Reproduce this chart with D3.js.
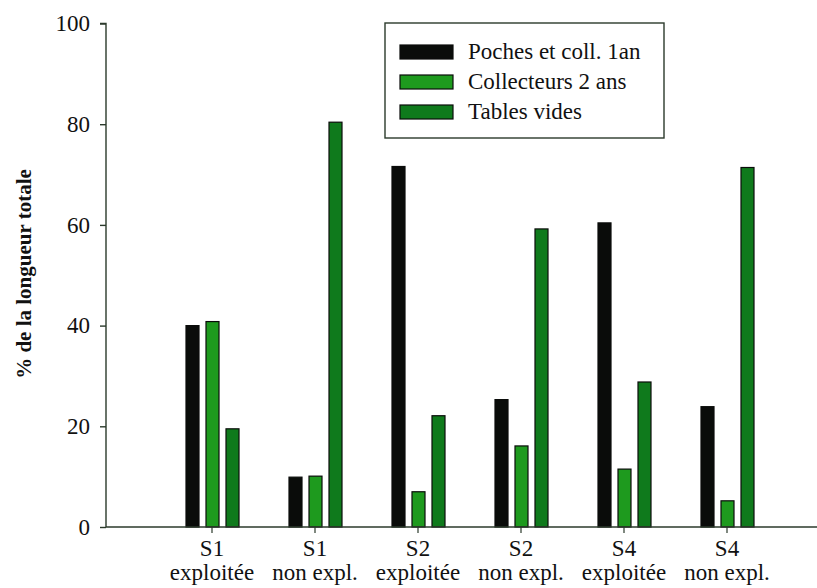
<!DOCTYPE html>
<html><head><meta charset="utf-8">
<script src="https://cdn.jsdelivr.net/npm/d3@7/dist/d3.min.js"></script>
<style>body{margin:0;background:#fff}svg{display:block}text{font-family:"Liberation Serif",Tinos,"Times New Roman",Times,"Nimbus Roman","Noto Serif","DejaVu Serif",serif}</style>
</head><body><svg id="c" width="817" height="588"></svg>
<script>
const categories = ["S1|exploitée","S1|non expl.","S2|exploitée","S2|non expl.","S4|exploitée","S4|non expl."];
const seriesNames = ["Poches et coll. 1an","Collecteurs 2 ans","Tables vides"];
const poches = [40.0, 9.9, 71.6, 25.3, 60.4, 23.9];
const collecteurs = [40.8, 10.1, 7.0, 16.1, 11.5, 5.2];
const tables = [19.5, 80.4, 22.1, 59.2, 28.8, 71.4];
const yTicks = [0,20,40,60,80,100];
const colors = ["#0a0c0a","#1e9a1e","#0f7a1c"];

const series = [poches, collecteurs, tables];
const svg = d3.select("#c");
const axisColor = "#2b3a2b";
const x0 = 106, yBase = 527, yTop = 23.5;
const x = d3.scaleBand().domain(categories).range([160.5, 778.5]).paddingInner(0).paddingOuter(0);
const xs = d3.scaleBand().domain([0,1,2]).range([-26, 27]).paddingInner(0.35).paddingOuter(0);
const y = d3.scaleLinear().domain([0,100]).range([yBase, yTop]);

// bars
series.forEach((vals, si) => {
  svg.append("g").selectAll("rect").data(vals).join("rect")
    .attr("x", (d,i) => x(categories[i]) + x.bandwidth()/2 + xs(si))
    .attr("width", xs.bandwidth())
    .attr("y", d => y(d))
    .attr("height", d => yBase - y(d))
    .attr("fill", colors[si])
    .attr("stroke", "#0a0c0a").attr("stroke-width", 1.2);
});

// y axis
const ya = svg.append("g").attr("transform", `translate(${x0},0)`)
  .call(d3.axisLeft(y).tickValues(yTicks).tickSize(6).tickPadding(10));
ya.attr("font-family", null);
ya.select(".domain").attr("stroke", axisColor).attr("stroke-width", 1.4).attr("d", `M-6,${yTop}H0V${yBase}`);
ya.selectAll(".tick line").attr("stroke", axisColor).attr("stroke-width", 1.4);
ya.selectAll(".tick text").attr("font-size", 23).attr("fill", "#111");

// x axis
const xa = svg.append("g").attr("transform", `translate(0,${yBase})`)
  .call(d3.axisBottom(x).tickSize(6).tickFormat(""));
xa.attr("font-family", null);
xa.select(".domain").attr("d", `M${x0},0H817`).attr("stroke", axisColor).attr("stroke-width", 1.4);
xa.selectAll(".tick line").attr("stroke", axisColor).attr("stroke-width", 1.2);
xa.selectAll(".tick").each(function(d){
  const parts = d.split("|");
  const t = d3.select(this).append("text").attr("font-size", 23).attr("fill", "#111").attr("text-anchor","middle");
  t.append("tspan").attr("x", 0).attr("y", 29).text(parts[0]);
  t.append("tspan").attr("x", 0).attr("y", 53).text(parts[1]);
});

// y title
svg.append("text").attr("transform", "translate(31,274) rotate(-90)")
  .attr("text-anchor","middle").attr("font-weight","bold")
  .attr("font-size", 21).attr("fill", "#111").text("% de la longueur totale");

// legend
const lg = svg.append("g");
lg.append("rect").attr("x", 385).attr("y", 23).attr("width", 279).attr("height", 115)
  .attr("fill", "#fff").attr("stroke", axisColor).attr("stroke-width", 1.4);
seriesNames.forEach((n, i) => {
  lg.append("rect").attr("x", 400).attr("y", 45 + i*30).attr("width", 53).attr("height", 14)
    .attr("fill", colors[i]).attr("stroke", "#0a0c0a").attr("stroke-width", 1.2);
  lg.append("text").attr("x", 468).attr("y", 59 + i*30).attr("font-size", 23)
    .attr("fill", "#111").text(n);
});
</script></body></html>
